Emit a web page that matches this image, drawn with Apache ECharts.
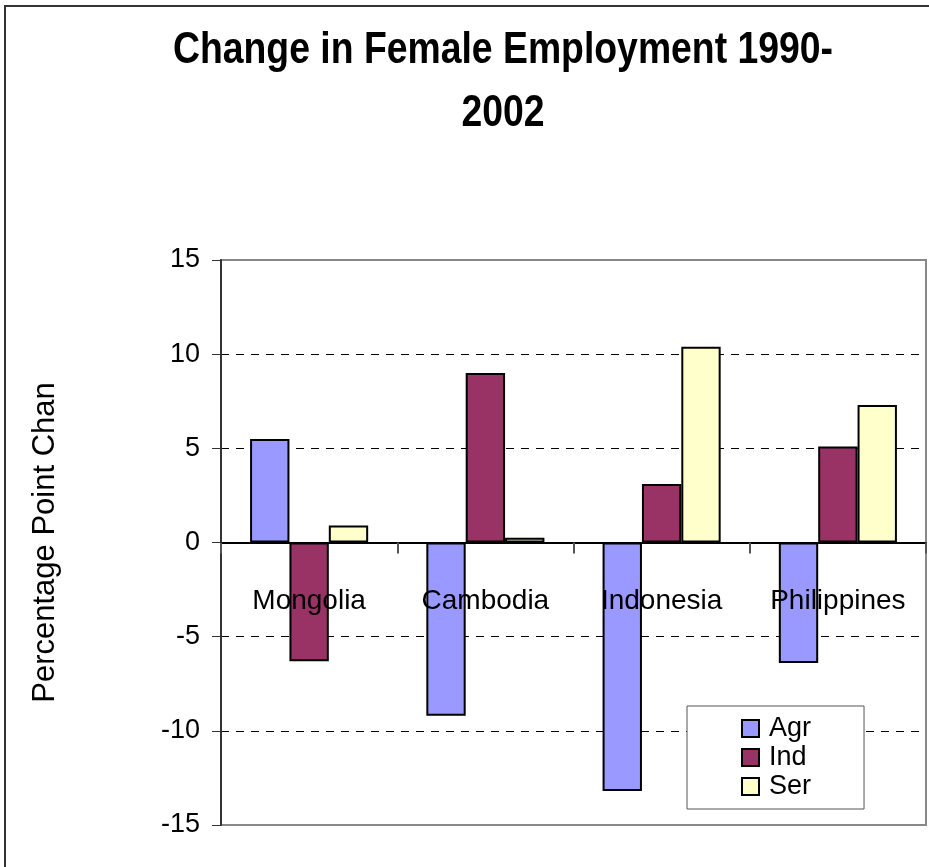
<!DOCTYPE html>
<html>
<head>
<meta charset="utf-8">
<script src="https://cdn.jsdelivr.net/npm/echarts@6/dist/echarts.min.js"></script>
<style>
  html, body { margin: 0; padding: 0; background: #fff; }
  #chart { width: 929px; height: 867px; }
</style>
</head>
<body>
<div id="chart"></div>
<script>
const countries = ['Mongolia', 'Cambodia', 'Indonesia', 'Philippines'];
const agrValues = [5.5, -9.2, -13.2, -6.4];
const indValues = [-6.3, 9.0, 3.1, 5.1];
const serValues = [0.9, 0.25, 10.4, 7.3];
const yTicks = [-15, 15, 5]; // min, max, step
const titleText = 'Change in Female Employment 1990-\n2002';

const FONT = '"Liberation Sans", Arial, sans-serif';

const barBorder = { borderColor: '#000', borderWidth: 2 };

function makeSeries(name, values, color) {
    return {
        name: name,
        type: 'bar',
        data: values,
        barGap: '0%',
        barCategoryGap: '33%',
        itemStyle: { color: color, ...barBorder },
        z: 2
    };
}

const chartDom = document.getElementById('chart');
const myChart = echarts.init(chartDom, null, { renderer: 'canvas' });

const option = {
    backgroundColor: '#fff',
    animation: false,
    graphic: [
        {
            // outer frame of the chart
            type: 'rect',
            shape: { x: 5, y: 6, width: 1000, height: 1000 },
            style: { fill: 'none', stroke: '#333', lineWidth: 2 },
            silent: true
        },
        {
            // title drawn narrow like the original
            type: 'text',
            x: 503,
            y: 19,
            scaleX: 0.83,
            style: {
                text: titleText,
                align: 'center',
                verticalAlign: 'top',
                fontFamily: FONT,
                fontWeight: 'bold',
                fontSize: 45,
                lineHeight: 63,
                fill: '#000'
            },
            silent: true
        }
    ],
    legend: {
        orient: 'vertical',
        left: 687,
        top: 706,
        padding: [8, 53, 8, 54],
        itemGap: 0,
        itemWidth: 17,
        itemHeight: 17,
        icon: 'rect',
        backgroundColor: '#fff',
        borderColor: '#555',
        borderWidth: 1,
        borderRadius: 0,
        textStyle: {
            fontFamily: FONT,
            fontSize: 27,
            lineHeight: 29,
            color: '#000',
            padding: [0, 0, 0, 5]
        },
        data: ['Agr', 'Ind', 'Ser']
    },
    grid: {
        left: 221,
        right: 3,
        top: 260,
        bottom: 42,
        show: true,
        borderColor: '#888',
        borderWidth: 2,
        outerBoundsMode: 'none',
        containLabel: false
    },
    xAxis: {
        type: 'category',
        data: countries,
        z: 5,
        axisLine: { onZero: true, lineStyle: { color: '#000', width: 2 } },
        axisTick: { show: true, alignWithLabel: false, length: 11, lineStyle: { color: '#555', width: 2 } },
        axisLabel: {
            // labels sit from the grid bottom here, so pull them up under the zero line
            margin: -238,
            fontFamily: FONT,
            fontSize: 28,
            color: '#000'
        },
        splitLine: { show: false }
    },
    yAxis: {
        type: 'value',
        min: yTicks[0],
        max: yTicks[1],
        interval: yTicks[2],
        name: 'Percentage Point Chan',
        nameLocation: 'middle',
        nameGap: 160,
        nameRotate: 90,
        nameTextStyle: {
            fontFamily: FONT,
            fontSize: 31,
            color: '#000'
        },
        axisLine: { show: true, lineStyle: { color: '#333', width: 2 } },
        axisTick: { show: true, inside: false, length: 9, lineStyle: { color: '#333', width: 1 } },
        axisLabel: {
            margin: 21,
            fontFamily: FONT,
            fontSize: 27,
            color: '#000'
        },
        splitLine: {
            show: true,
            lineStyle: {
                // -15, -10, -5, 0, 5, 10, 15
                color: ['rgba(0,0,0,0)', '#000', '#000', 'rgba(0,0,0,0)', '#000', '#000', 'rgba(0,0,0,0)'],
                type: [8, 7],
                width: 1
            }
        }
    },
    series: [
        makeSeries('Agr', agrValues, '#9999FF'),
        makeSeries('Ind', indValues, '#993366'),
        makeSeries('Ser', serValues, '#FFFFCC')
    ]
};

myChart.setOption(option);
</script>
</body>
</html>
